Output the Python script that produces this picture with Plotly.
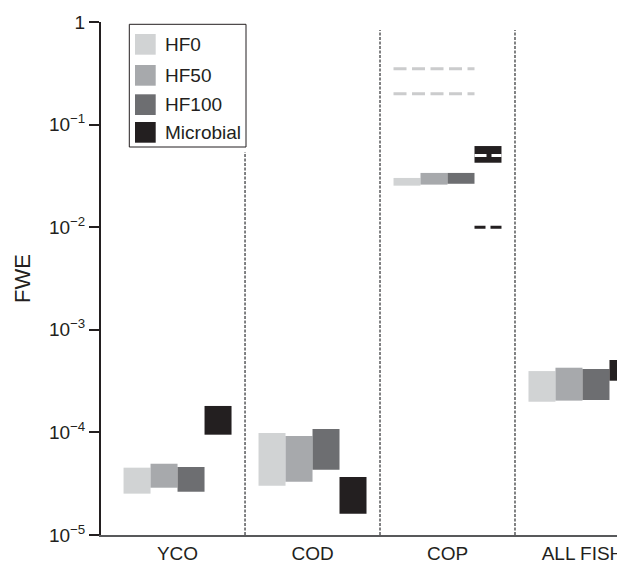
import plotly.graph_objects as go

# ---------------- data ----------------
categories = ["YCO", "COD", "COP", "ALL FISH"]
series_names = ["HF0", "HF50", "HF100", "Microbial"]

hf0_low = [2.53e-5, 3.02e-5, 0.0254, 1.99e-4]
hf0_high = [4.53e-5, 9.87e-5, 0.0302, 3.96e-4]
hf50_low = [2.89e-5, 3.31e-5, 0.0260, 2.04e-4]
hf50_high = [4.95e-5, 9.20e-5, 0.0338, 4.27e-4]
hf100_low = [2.64e-5, 4.33e-5, 0.0265, 2.07e-4]
hf100_high = [4.60e-5, 1.08e-4, 0.0338, 4.15e-4]
microbial_low = [9.5e-5, 1.61e-5, 0.0425, 3.19e-4]
microbial_high = [1.81e-4, 3.67e-5, 0.0618, 5.08e-4]

cop_hf_dashed = [0.35, 0.20]       # light dashed levels in COP
cop_microbial_dashed = [0.01]      # dark dashed level in COP
cop_microbial_mid = [0.050]        # white line inside COP microbial box

y_tick_vals = [1e-5, 1e-4, 1e-3, 1e-2, 1e-1, 1]
y_tick_text = ["10<sup>−5</sup>", "10<sup>−4</sup>", "10<sup>−3</sup>",
               "10<sup>−2</sup>", "10<sup>−1</sup>", "1"]

# ---------------- style ----------------
colors = ["#d1d3d4", "#a7a9ac", "#6d6e71", "#231f20"]
offsets = [-0.3, -0.1, 0.1, 0.3]
bar_w = 0.2
font_family = "Liberation Sans, Arial, sans-serif"
text_color = "#231f20"

BODY = 8  # default page margin of the html body
W, H = 625 - BODY, 563 - BODY
ML, MR, MT, MB = 101 - BODY, 0, 22 - BODY, 28
PW, PH = W - ML - MR, H - MT - MB


def px_x(p):
    return (p - BODY - ML) / PW


def px_y(p):
    return (H - MB - (p - BODY)) / PH


lows = [hf0_low, hf50_low, hf100_low, microbial_low]
highs = [hf0_high, hf50_high, hf100_high, microbial_high]

fig = go.Figure()
xs = list(range(len(categories)))
for name, lo, hi, col, off in zip(series_names, lows, highs, colors, offsets):
    fig.add_trace(go.Bar(
        x=xs, base=lo, y=[h - l for h, l in zip(hi, lo)],
        width=bar_w, offset=off - bar_w / 2,
        marker=dict(color=col, line=dict(width=0)),
        name=name, showlegend=False,
    ))

cop_i = categories.index("COP")
x_left = cop_i + offsets[0] - bar_w / 2
x_right = cop_i + offsets[2] + bar_w / 2
for v in cop_hf_dashed:
    fig.add_trace(go.Scatter(
        x=[x_left, x_right], y=[v, v], mode="lines",
        line=dict(color="#cbcccd", width=3, dash="13px,5.5px"),
        showlegend=False, hoverinfo="skip"))

mx0 = cop_i + offsets[3] - bar_w / 2
mx1 = cop_i + offsets[3] + bar_w / 2
for v in cop_microbial_dashed:
    fig.add_trace(go.Scatter(
        x=[mx0, mx1], y=[v, v], mode="lines",
        line=dict(color="#231f20", width=3, dash="11px,5px"),
        showlegend=False, hoverinfo="skip"))
for v in cop_microbial_mid:
    fig.add_trace(go.Scatter(
        x=[mx0, mx1], y=[v, v], mode="lines",
        line=dict(color="white", width=3, dash="12px,5px"),
        showlegend=False, hoverinfo="skip"))

shapes = []
divider_tops = [px_y(152), px_y(30), px_y(30)]
for k, top in enumerate(divider_tops):
    shapes.append(dict(type="line", xref="x", yref="paper",
                       x0=k + 0.5, x1=k + 0.5, y0=0, y1=top,
                       line=dict(color="#58595b", width=1.5, dash="3px,1.5px")))

# manual legend
shapes.append(dict(type="rect", xref="paper", yref="paper",
                   x0=px_x(129.3), x1=px_x(246), y0=px_y(147), y1=px_y(24.3),
                   line=dict(color="#231f20", width=1), fillcolor="white", layer="above"))
sw_tops = [34, 65, 94.3, 122]
annotations = []
for name, col, top in zip(series_names, colors, sw_tops):
    shapes.append(dict(type="rect", xref="paper", yref="paper",
                       x0=px_x(135), x1=px_x(155.7), y0=px_y(top + 20.7), y1=px_y(top),
                       line=dict(width=0), fillcolor=col, layer="above"))
    annotations.append(dict(xref="paper", yref="paper", x=px_x(163), y=px_y(top + 10.5),
                            text=name, showarrow=False, xanchor="left", yanchor="middle",
                            font=dict(size=19, color=text_color, family=font_family)))

fig.update_layout(
    width=W, height=H,
    margin=dict(l=ML, r=MR, t=MT, b=MB, autoexpand=False),
    plot_bgcolor="white", paper_bgcolor="white",
    barmode="overlay",
    shapes=shapes, annotations=annotations,
    font=dict(family=font_family, color=text_color, size=18),
    xaxis=dict(
        range=[-0.567, 3.315], tickvals=xs, ticktext=categories,
        showgrid=False, zeroline=False, ticks="",
        showline=True, linecolor="#58595b", linewidth=2,
        tickfont=dict(size=19),
    ),
    yaxis=dict(
        type="log", range=[-5, 0], tickvals=y_tick_vals, ticktext=y_tick_text,
        showgrid=False, zeroline=False,
        ticks="outside", ticklen=10, tickwidth=2, tickcolor="#231f20",
        showline=True, linecolor="#231f20", linewidth=2,
        tickfont=dict(size=19),
        title=dict(text="FWE", font=dict(size=22), standoff=12),
    ),
)

fig.write_html("out.html")
